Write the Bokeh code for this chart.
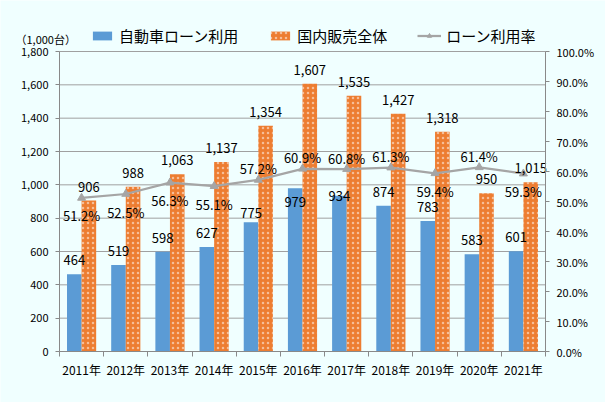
from bokeh.plotting import figure
from bokeh.models import (Range1d, LinearAxis, FixedTicker, NumeralTickFormatter,
                          PrintfTickFormatter, Legend, LegendItem, Label)
from bokeh.core.properties import value
from bokeh.embed import file_html
from bokeh.resources import INLINE

years = ["2011年", "2012年", "2013年", "2014年", "2015年", "2016年",
         "2017年", "2018年", "2019年", "2020年", "2021年"]
loan = [464, 519, 598, 627, 775, 979, 934, 874, 783, 583, 601]
total = [906, 988, 1063, 1137, 1354, 1607, 1535, 1427, 1318, 950, 1015]
rate = [51.2, 52.5, 56.3, 55.1, 57.2, 60.9, 60.8, 61.3, 59.4, 61.4, 59.3]
rate_label_side = ["below", "below", "below", "below", "above", "above",
                   "above", "above", "below", "above", "below"]
left_ticks = list(range(0, 1801, 200))
right_ticks = list(range(0, 101, 10))
unit_label = "（1,000台）"

# label placement tweaks (pixels, screen offsets) for the loan labels
loan_label_offset = {"2015年": -9, "2016年": 14, "2017年": 0}

FONT = "Noto Sans CJK JP"
BLUE = "#5B9BD5"
ORANGE = "#ED7D31"
GRAY = "#A5A5A5"
AXIS = "#898989"
GRID = "#A0A0A0"
BG = "#F0FFFF"

# canvas and plot-area geometry (pixels)
W, H = 605, 402
PL, PR, PT, PB = 59, 545, 51, 351

n = len(years)
ymax, pmax = left_ticks[-1], right_ticks[-1]
xpp = n / (PR - PL)
ypp = ymax / (PB - PT)
ppp = pmax / (PB - PT)

xs = [i + 0.5 for i in range(n)]
bw = 0.33
x_loan = [x - bw / 2 for x in xs]
x_total = [x + bw / 2 for x in xs]

p = figure(width=W, height=H,
           x_range=Range1d(-PL * xpp, n + (W - PR) * xpp),
           y_range=Range1d(-(H - PB) * ypp, ymax + PT * ypp),
           x_axis_type=None, y_axis_type=None,
           output_backend="svg", toolbar_location=None,
           min_border=0, min_border_left=0, min_border_right=0,
           min_border_top=0, min_border_bottom=0,
           background_fill_color=BG, border_fill_color=BG, outline_line_color=None)
p.extra_y_ranges = {"pct": Range1d(-(H - PB) * ppp, pmax + PT * ppp)}

# grid lines at the left-axis ticks
grid_ticks = [t for t in left_ticks if t > 0]
p.segment(x0=[0] * len(grid_ticks), x1=[n] * len(grid_ticks), y0=grid_ticks, y1=grid_ticks,
          line_color=GRID, line_width=1)

# axes
xa = LinearAxis(fixed_location=0, bounds=(0, n),
                ticker=FixedTicker(ticks=xs, minor_ticks=list(range(n + 1))))
xa.major_label_overrides = {x: y for x, y in zip(xs, years)}
xa.major_tick_line_color = None
xa.minor_tick_line_color = AXIS
xa.minor_tick_out = 5
xa.minor_tick_in = 0
xa.axis_line_color = AXIS
xa.major_label_text_font = FONT
xa.major_label_text_font_size = "12px"
xa.major_label_text_color = "#000000"
xa.major_label_standoff = 3
p.add_layout(xa, "below")

ya = LinearAxis(fixed_location=0, bounds=(0, ymax), ticker=FixedTicker(ticks=left_ticks),
                formatter=NumeralTickFormatter(format="0,0"))
ya.axis_line_color = AXIS
ya.major_tick_line_color = AXIS
ya.major_tick_out = 4
ya.major_tick_in = 0
ya.minor_tick_line_color = None
ya.major_label_text_font = FONT
ya.major_label_text_font_size = "11px"
ya.major_label_text_color = "#000000"
ya.major_label_standoff = 7
p.add_layout(ya, "left")

ra = LinearAxis(y_range_name="pct", fixed_location=n, bounds=(0, pmax),
                ticker=FixedTicker(ticks=right_ticks),
                formatter=PrintfTickFormatter(format="%.1f%%"))
ra.axis_line_color = AXIS
ra.major_tick_line_color = AXIS
ra.major_tick_out = 4
ra.major_tick_in = 0
ra.minor_tick_line_color = None
ra.major_label_text_font = FONT
ra.major_label_text_font_size = "11px"
ra.major_label_text_color = "#000000"
ra.major_label_standoff = 7
p.add_layout(ra, "right")

# bars
r_loan = p.vbar(x=x_loan, top=loan, width=bw, fill_color=BLUE, line_color=None)
r_total = p.vbar(x=x_total, top=total, width=bw, fill_color=ORANGE, line_color=None,
                 hatch_pattern="dot", hatch_color="white", hatch_scale=5,
                 hatch_weight=1, hatch_alpha=0.5)

# line
r_line = p.line(xs, rate, y_range_name="pct", line_color=GRAY, line_width=2.25)
r_pts = p.scatter(xs, rate, y_range_name="pct", marker="triangle", size=8,
                  fill_color=GRAY, line_color=GRAY)

# data labels
p.text(x=x_loan, y=loan, text=[f"{v:,}" for v in loan], text_align="center",
       text_baseline="middle", y_offset=[loan_label_offset.get(yr, -14) for yr in years],
       text_font=value(FONT), text_font_size="13px", text_color="#000000")
p.text(x=x_total, y=total, text=[f"{v:,}" for v in total], text_align="center",
       text_baseline="middle", y_offset=-14, text_font=value(FONT),
       text_font_size="13px", text_color="#000000")
p.text(x=xs, y=rate, y_range_name="pct", text=[f"{v:.1f}%" for v in rate],
       y_offset=[-11 if s == "above" else 18 for s in rate_label_side],
       text_align="center", text_baseline="middle", text_font=value(FONT),
       text_font_size="13px", text_color="#000000")

# legend
legend = Legend(items=[LegendItem(label="自動車ローン利用", renderers=[r_loan]),
                       LegendItem(label="国内販売全体", renderers=[r_total]),
                       LegendItem(label="ローン利用率", renderers=[r_line, r_pts])],
                location=(90, H - 46), orientation="horizontal",
                padding=0, margin=0, spacing=30, label_standoff=5,
                glyph_width=24, glyph_height=11, label_height=16,
                label_text_font=FONT, label_text_font_size="15px",
                label_text_color="#000000", label_text_baseline="middle",
                background_fill_alpha=0, border_line_color=None)
p.add_layout(legend)

p.add_layout(Label(x=15, y=H - 38, x_units="screen", y_units="screen", text=unit_label,
                   text_baseline="middle", text_font=FONT, text_font_size="11px",
                   text_color="#000000"))

open("out.html", "w").write(file_html(p, INLINE))
